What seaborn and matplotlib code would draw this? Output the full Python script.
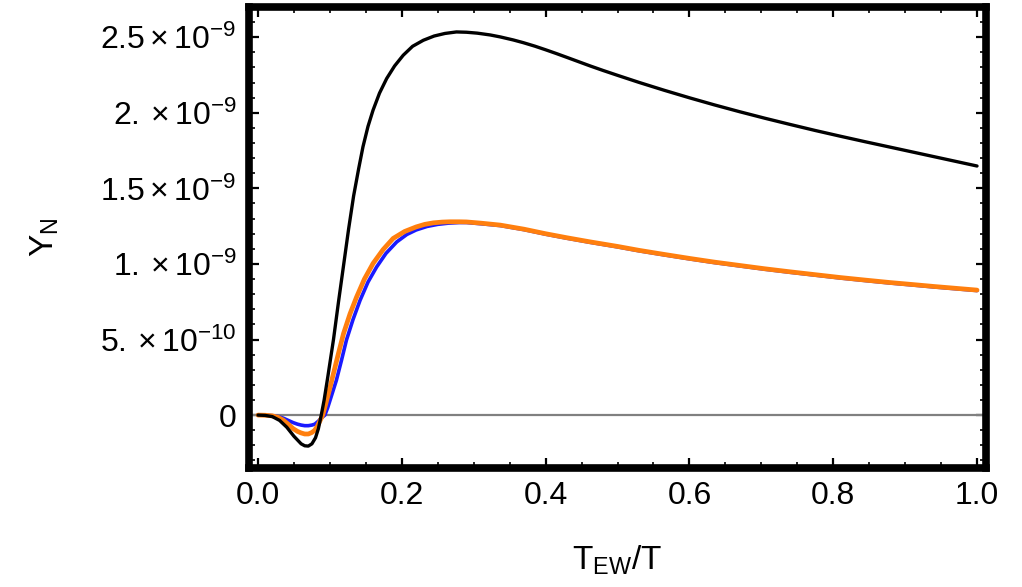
import numpy as np
import pandas as pd
import matplotlib
matplotlib.use("Agg")
import matplotlib.pyplot as plt
import seaborn as sns
from matplotlib.ticker import MultipleLocator, FixedLocator, FixedFormatter

# ---- data (Y_N in units of 1e-9) ----
x_black = [0, 0.01, 0.02, 0.03, 0.04, 0.05, 0.06, 0.065, 0.07, 0.075, 0.08, 0.084,
           0.088, 0.092, 0.097, 0.105, 0.112, 0.119, 0.126, 0.133, 0.14, 0.146, 0.153,
           0.160, 0.169, 0.179, 0.19, 0.202, 0.215, 0.230, 0.245, 0.26, 0.276, 0.29,
           0.305, 0.323, 0.337, 0.355, 0.369, 0.385, 0.40, 0.415, 0.43, 0.446, 0.462,
           0.48, 0.50, 0.53, 0.565, 0.601, 0.635, 0.67, 0.705, 0.74, 0.775, 0.81,
           0.845, 0.879, 0.91, 0.94, 0.97, 1.0]
y_black = [0, -0.002, -0.01, -0.035, -0.08, -0.14, -0.19, -0.203, -0.205, -0.19, -0.15, -0.09,
           0.0, 0.1, 0.25, 0.50, 0.75, 0.99, 1.23, 1.45, 1.63, 1.775, 1.91,
           2.017, 2.13, 2.227, 2.31, 2.381, 2.44, 2.480, 2.508, 2.525, 2.535, 2.533,
           2.527, 2.515, 2.502, 2.482, 2.464, 2.441, 2.417, 2.392, 2.366, 2.338, 2.310,
           2.280, 2.248, 2.201, 2.149, 2.098, 2.052, 2.007, 1.964, 1.923, 1.883, 1.845,
           1.808, 1.773, 1.741, 1.71, 1.679, 1.648]

x_orange = [0, 0.01, 0.02, 0.028, 0.035, 0.042, 0.049, 0.055, 0.06, 0.065, 0.07, 0.075,
            0.079, 0.083, 0.086, 0.09, 0.094, 0.099, 0.105, 0.112, 0.119, 0.128, 0.137,
            0.148, 0.160, 0.174, 0.188, 0.204, 0.22, 0.232, 0.244, 0.256, 0.267, 0.28,
            0.29, 0.31, 0.337, 0.37, 0.40, 0.43, 0.462, 0.50, 0.53, 0.565, 0.601,
            0.635, 0.67, 0.705, 0.74, 0.775, 0.81, 0.845, 0.879, 0.91, 0.94, 0.97, 1.0]
y_orange = [0, -0.001, -0.005, -0.015, -0.033, -0.06, -0.09, -0.108, -0.118, -0.125, -0.125, -0.115,
            -0.10, -0.07, -0.04, 0.0, 0.07, 0.16, 0.276, 0.41, 0.54, 0.67, 0.78,
            0.90, 1.003, 1.095, 1.169, 1.215, 1.245, 1.262, 1.272, 1.277, 1.279, 1.279,
            1.278, 1.27, 1.257, 1.23, 1.20, 1.173, 1.146, 1.116, 1.09, 1.063, 1.036,
            1.012, 0.99, 0.968, 0.948, 0.929, 0.91, 0.893, 0.877, 0.864, 0.851, 0.839, 0.827]

x_blue = [0, 0.01, 0.02, 0.028, 0.035, 0.042, 0.049, 0.055, 0.06, 0.065, 0.07, 0.075,
          0.079, 0.084, 0.088, 0.093, 0.097, 0.103, 0.109, 0.116, 0.123, 0.132, 0.142,
          0.153, 0.165, 0.178, 0.193, 0.207, 0.22, 0.235, 0.25, 0.265, 0.28, 0.29,
          0.31, 0.337, 0.37, 0.40, 0.43, 0.462, 0.50, 0.53, 0.565, 0.601,
          0.635, 0.67, 0.705, 0.74, 0.775, 0.81, 0.845, 0.879, 0.91, 0.94, 0.97, 1.0]
y_blue = [0, -0.001, -0.004, -0.01, -0.02, -0.035, -0.05, -0.06, -0.066, -0.07, -0.07, -0.066,
          -0.06, -0.04, -0.02, 0.0, 0.05, 0.14, 0.23, 0.36, 0.496, 0.63, 0.76,
          0.88, 0.98, 1.07, 1.146, 1.195, 1.225, 1.248, 1.262, 1.27, 1.274, 1.274,
          1.266, 1.254, 1.227, 1.197, 1.17, 1.143, 1.113, 1.087, 1.06, 1.033,
          1.009, 0.987, 0.965, 0.945, 0.926, 0.907, 0.89, 0.874, 0.861, 0.848, 0.836, 0.824]

scale = 1e-9
x_ticks = [0.0, 0.2, 0.4, 0.6, 0.8, 1.0]
x_ticklabels = ["0.0", "0.2", "0.4", "0.6", "0.8", "1.0"]
y_ticks = [0, 0.5, 1.0, 1.5, 2.0, 2.5]
y_ticklabels = [r"$0$", r"$5.\times10^{-10}$", r"$1.\times10^{-9}$",
                r"$1.5\times10^{-9}$", r"$2.\times10^{-9}$", r"$2.5\times10^{-9}$"]

# ---- style ----
sns.set_style("white")
plt.rcParams["font.family"] = ["Liberation Sans", "DejaVu Sans"]
plt.rcParams["mathtext.fontset"] = "custom"
plt.rcParams["mathtext.rm"] = "Liberation Sans"
plt.rcParams["mathtext.it"] = "Liberation Sans"
plt.rcParams["mathtext.bf"] = "Liberation Sans:bold"
plt.rcParams["text.color"] = "black"
plt.rcParams["axes.labelcolor"] = "black"
plt.rcParams["xtick.color"] = "black"
plt.rcParams["ytick.color"] = "black"

fig = plt.figure(figsize=(10.22, 5.87), dpi=100)
ax = fig.add_axes([249 / 1022, 1 - 468 / 587, (986 - 249) / 1022, (468 - 7) / 587])

ax.axhline(0, color="#808080", lw=1.6, zorder=1)

frames = [
    pd.DataFrame({"x": x_blue, "y": np.array(y_blue) * scale}),
    pd.DataFrame({"x": x_orange, "y": np.array(y_orange) * scale}),
    pd.DataFrame({"x": x_black, "y": np.array(y_black) * scale}),
]
styles = [("#1a1aff", 2.6), ("#ff7f0e", 3.4), ("black", 2.4)]
for df, (c, lw) in zip(frames, styles):
    sns.lineplot(data=df, x="x", y="y", color=c, lw=lw, ax=ax,
                 estimator=None, sort=False, zorder=3,
                 solid_joinstyle="round", solid_capstyle="round")

ax.set_xlim(-0.0125, 1.0125)
ax.set_ylim(-0.35e-9, 2.70e-9)

ax.xaxis.set_major_locator(FixedLocator(x_ticks))
ax.xaxis.set_major_formatter(FixedFormatter(x_ticklabels))
ax.xaxis.set_minor_locator(MultipleLocator(0.05))
ax.yaxis.set_major_locator(FixedLocator([v * scale for v in y_ticks]))
ax.yaxis.set_major_formatter(FixedFormatter(y_ticklabels))
ax.yaxis.set_minor_locator(MultipleLocator(0.1e-9))

for s in ax.spines.values():
    s.set_linewidth(5.5)
    s.set_color("black")

ax.tick_params(which="both", direction="in", top=True, right=True,
               bottom=True, left=True, color="black")
ax.tick_params(which="major", length=7.5, width=1.6, labelsize=23, pad=9)
ax.tick_params(which="minor", length=4.5, width=1.2)

ax.set_xlabel(r"$\mathregular{T_{EW}/T}$", fontsize=24, labelpad=24)
ax.set_ylabel(r"$\mathregular{Y_{N}}$", fontsize=24, labelpad=28)

fig.savefig("out.png", dpi=100)
